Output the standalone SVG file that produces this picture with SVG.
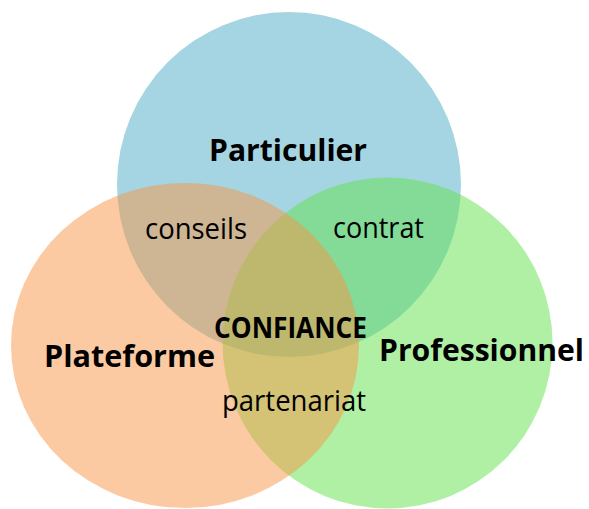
<svg xmlns="http://www.w3.org/2000/svg" width="589" height="509" viewBox="0 0 589 509">
  <style>
    .set { fill-opacity: 0.5; }
    .lbl { font-family: "Open Sans", "Noto Sans", sans-serif; fill: #000; }
    .big { font-size: 31px; font-weight: bold; }
    .mid { font-size: 28px; font-weight: bold; }
    .small { font-size: 29px; }
  </style>
  <rect width="589" height="509" fill="#ffffff"/>
  <g id="particulier">
    <ellipse class="set" cx="289" cy="184.5" rx="172" ry="172.5" fill="#4BACC6"/>
  </g>
  <g id="professionnel">
    <ellipse class="set" cx="387.5" cy="343" rx="165" ry="165.5" fill="#62E14B"/>
  </g>
  <g id="plateforme">
    <ellipse class="set" cx="185" cy="345.5" rx="174" ry="162.5" fill="#F79646"/>
  </g>
  <g id="connectors"></g>
  <g id="labels">
    <text class="lbl big" x="209" y="160.5" textLength="158" lengthAdjust="spacingAndGlyphs">Particulier</text>
    <text class="lbl big" x="44" y="367" textLength="171" lengthAdjust="spacingAndGlyphs">Plateforme</text>
    <text class="lbl big" x="379" y="361" textLength="205" lengthAdjust="spacingAndGlyphs">Professionnel</text>
    <text class="lbl mid" x="214" y="338" textLength="153" lengthAdjust="spacingAndGlyphs">CONFIANCE</text>
    <text class="lbl small" x="145" y="239" textLength="102" lengthAdjust="spacingAndGlyphs">conseils</text>
    <text class="lbl small" x="333" y="238" textLength="91" lengthAdjust="spacingAndGlyphs">contrat</text>
    <text class="lbl small" x="222" y="410.5" textLength="144" lengthAdjust="spacingAndGlyphs">partenariat</text>
  </g>
</svg>
